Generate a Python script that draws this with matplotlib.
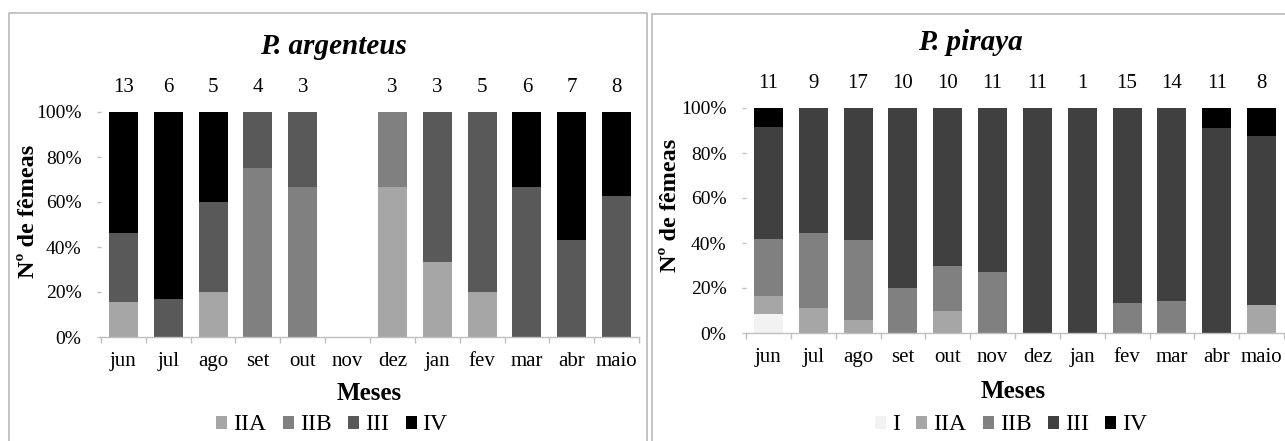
import matplotlib

matplotlib.use("Agg")

import matplotlib.pyplot as plt
from matplotlib.patches import Patch, Rectangle
from matplotlib.transforms import blended_transform_factory

W, H = 1285, 441

months = ["jun", "jul", "ago", "set", "out", "nov", "dez", "jan", "fev", "mar", "abr", "maio"]

# P. argenteus: numero de femeas por mes e % por estadio
arg_n = [13, 6, 5, 4, 3, None, 3, 3, 5, 6, 7, 8]
arg_IIA = [15.4, 0, 20.0, 0, 0, 0, 66.7, 33.3, 20.0, 0, 0, 0]
arg_IIB = [0, 0, 0, 75.0, 66.7, 0, 33.3, 0, 0, 0, 0, 0]
arg_III = [30.8, 16.7, 40.0, 25.0, 33.3, 0, 0, 66.7, 80.0, 66.7, 42.9, 62.5]
arg_IV = [53.8, 83.3, 40.0, 0, 0, 0, 0, 0, 0, 33.3, 57.1, 37.5]

# P. piraya
pir_n = [11, 9, 17, 10, 10, 11, 11, 1, 15, 14, 11, 8]
pir_I = [8.3, 0, 0, 0, 0, 0, 0, 0, 0, 0, 0, 0]
pir_IIA = [8.3, 11.1, 5.9, 0, 10.0, 0, 0, 0, 0, 0, 0, 12.5]
pir_IIB = [25.0, 33.3, 35.3, 20.0, 20.0, 27.3, 0, 0, 13.3, 14.3, 0, 0]
pir_III = [50.0, 55.6, 58.8, 80.0, 70.0, 72.7, 100.0, 100.0, 86.7, 85.7, 90.9, 75.0]
pir_IV = [8.3, 0, 0, 0, 0, 0, 0, 0, 0, 0, 9.1, 12.5]

plt.rcParams["font.family"] = ["Liberation Serif", "DejaVu Serif"]

AXIS_GREY = "#bfbfbf"
FRAME_GREY = "#b4b4b4"


def fx(px):
    return px / W


def fy(py):
    return 1 - py / H


def draw_panel(fig, rect, series, counts, title, title_xy, ylabel_xy, meses_xy, legend_xy):
    left, top, right, bottom = rect
    ax = fig.add_axes([fx(left), fy(bottom), fx(right - left), (bottom - top) / H])
    x = list(range(len(months)))
    base = [0.0] * len(months)
    handles = []
    for name, values, color in series:
        ax.bar(x, values, width=0.65, bottom=base, color=color, linewidth=0)
        base = [b + v for b, v in zip(base, values)]
        handles.append(Patch(facecolor=color, edgecolor="none", label=name))

    ax.set_xlim(-0.5, len(months) - 0.5)
    ax.set_ylim(0, 100)
    ax.set_yticks(range(0, 101, 20))
    ax.set_yticklabels([f"{v}%" for v in range(0, 101, 20)])
    ax.set_xticks(x)
    ax.set_xticklabels(months)
    ax.set_xticks([i - 0.5 for i in range(len(months) + 1)], minor=True)

    for side in ["top", "right", "left"]:
        ax.spines[side].set_visible(False)
    ax.spines["bottom"].set_color(AXIS_GREY)
    ax.spines["bottom"].set_linewidth(1.0)
    ax.tick_params(axis="x", which="major", length=0, pad=11, labelsize=15)
    ax.tick_params(axis="x", which="minor", length=4, width=1.0, color=AXIS_GREY)
    ax.tick_params(axis="y", length=3, width=1.0, color=AXIS_GREY, pad=11, labelsize=14)

    trans = blended_transform_factory(ax.transData, ax.transAxes)
    for i, n in enumerate(counts):
        if n is not None:
            ax.text(i, 1.11, str(n), transform=trans, ha="center", va="center", fontsize=15)

    fig.text(fx(title_xy[0]), fy(title_xy[1]), title, ha="center", va="center",
             fontsize=21, fontweight="bold", fontstyle="italic")
    fig.text(fx(ylabel_xy[0]), fy(ylabel_xy[1]), "Nº de fêmeas", rotation=90,
             ha="center", va="center", fontsize=17.5, fontweight="bold")
    fig.text(fx(meses_xy[0]), fy(meses_xy[1]), "Meses", ha="center", va="center",
             fontsize=18, fontweight="bold")
    fig.legend(handles=handles, loc="center",
               bbox_to_anchor=(fx(legend_xy[0]), fy(legend_xy[1])),
               ncol=len(handles), frameon=False, fontsize=17,
               handlelength=0.47, handleheight=0.47, handletextpad=0.25,
               columnspacing=0.7, borderpad=0, borderaxespad=0)
    return ax


fig = plt.figure(figsize=(W / 100, H / 100), dpi=100)

fig.patches.append(Rectangle((fx(9), fy(460)), fx(647 - 9), (460 - 13) / H,
                             transform=fig.transFigure, fill=False,
                             edgecolor=FRAME_GREY, linewidth=1.1))
fig.patches.append(Rectangle((fx(652), fy(460)), fx(1310 - 652), (460 - 14) / H,
                             transform=fig.transFigure, fill=False,
                             edgecolor=FRAME_GREY, linewidth=1.1))

draw_panel(
    fig,
    (101, 112, 639, 337),
    [("IIA", arg_IIA, "#a6a6a6"), ("IIB", arg_IIB, "#808080"),
     ("III", arg_III, "#595959"), ("IV", arg_IV, "#000000")],
    arg_n,
    "P. argenteus",
    (333, 47),
    (28, 211),
    (369, 393),
    (332, 425),
)

draw_panel(
    fig,
    (746, 108, 1284, 333),
    [("I", pir_I, "#f2f2f2"), ("IIA", pir_IIA, "#a6a6a6"), ("IIB", pir_IIB, "#808080"),
     ("III", pir_III, "#404040"), ("IV", pir_IV, "#000000")],
    pir_n,
    "P. piraya",
    (970, 43),
    (671, 205),
    (1013, 392),
    (1011, 425),
)

fig.savefig("out.png", dpi=100)
